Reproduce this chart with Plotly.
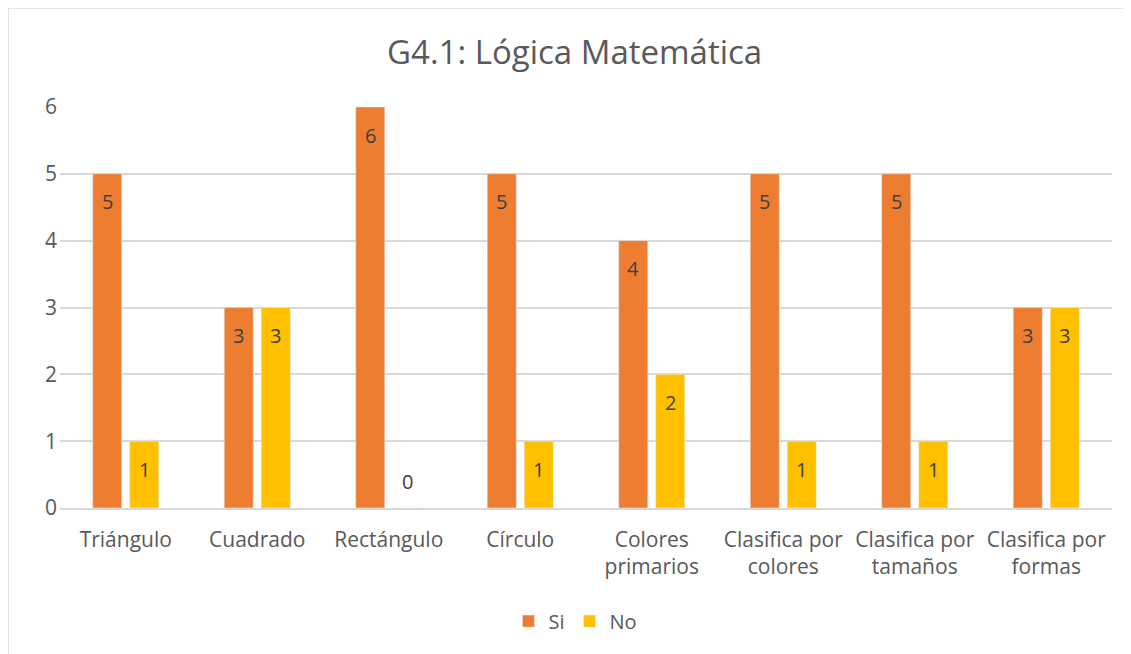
import plotly.graph_objects as go

categories = ['Triángulo', 'Cuadrado', 'Rectángulo', 'Círculo', 'Colores<br>primarios',
              'Clasifica por<br>colores', 'Clasifica por<br>tamaños', 'Clasifica por<br>formas']
si = [5, 3, 6, 5, 4, 5, 5, 3]
no = [1, 3, 0, 1, 2, 1, 1, 3]
y_ticks = [0, 1, 2, 3, 4, 5, 6]

FONT = 'Open Sans'
TXT = '#595959'
ORANGE = '#ED7D31'
YELLOW = '#FFC000'

fig = go.Figure()
fig.add_trace(go.Bar(x=categories, y=si, name='Si', marker_color=ORANGE))
fig.add_trace(go.Bar(x=categories, y=no, name='No', marker_color=YELLOW))

# data labels, Excel "inside end" look
annotations = []
for series, shift in ((si, -18.5), (no, 18.5)):
    for cat, v in zip(categories, series):
        annotations.append(dict(
            x=cat, y=v, xref='x', yref='y', text=str(v), showarrow=False,
            xshift=shift, yshift=-28 if v > 0 else 27,
            font=dict(family=FONT, size=20, color='#404040')))

# the page has an 8px body margin, so figure coords = page coords - 8
fig.update_layout(
    width=1131, height=654,
    margin=dict(l=52, r=27, t=99, b=154),
    paper_bgcolor='white', plot_bgcolor='white',
    title=dict(text='G4.1: Lógica Matemática', x=0.501, xanchor='center',
               y=1 - 44 / 654, yanchor='middle',
               font=dict(family=FONT, size=33, color=TXT)),
    font=dict(family=FONT, size=21, color=TXT),
    barmode='group', bargap=0.437, bargroupgap=0.216,
    showlegend=True,
    legend=dict(orientation='h', x=0.49, xanchor='center', y=-0.282, yanchor='middle',
                font=dict(family=FONT, size=20, color=TXT), itemwidth=30,
                traceorder='normal'),
    annotations=annotations,
    shapes=[dict(type='rect', xref='paper', yref='paper',
                 x0=-52 / 1052, x1=1.05, y0=-0.5, y1=500 / 401,
                 line=dict(color='#D9D9D9', width=1.5), layer='below')],
)
fig.update_xaxes(showline=True, linecolor='#D9D9D9', linewidth=1.5, ticks='',
                 ticklabelstandoff=12,
                 tickfont=dict(family=FONT, size=21, color=TXT))
fig.update_yaxes(range=[0, 6], tickvals=y_ticks, showgrid=True, gridcolor='#D9D9D9',
                 gridwidth=1.5, zeroline=False, ticks='', ticklabelstandoff=2,
                 tickfont=dict(family=FONT, size=21, color=TXT))

fig.write_html('out.html')
